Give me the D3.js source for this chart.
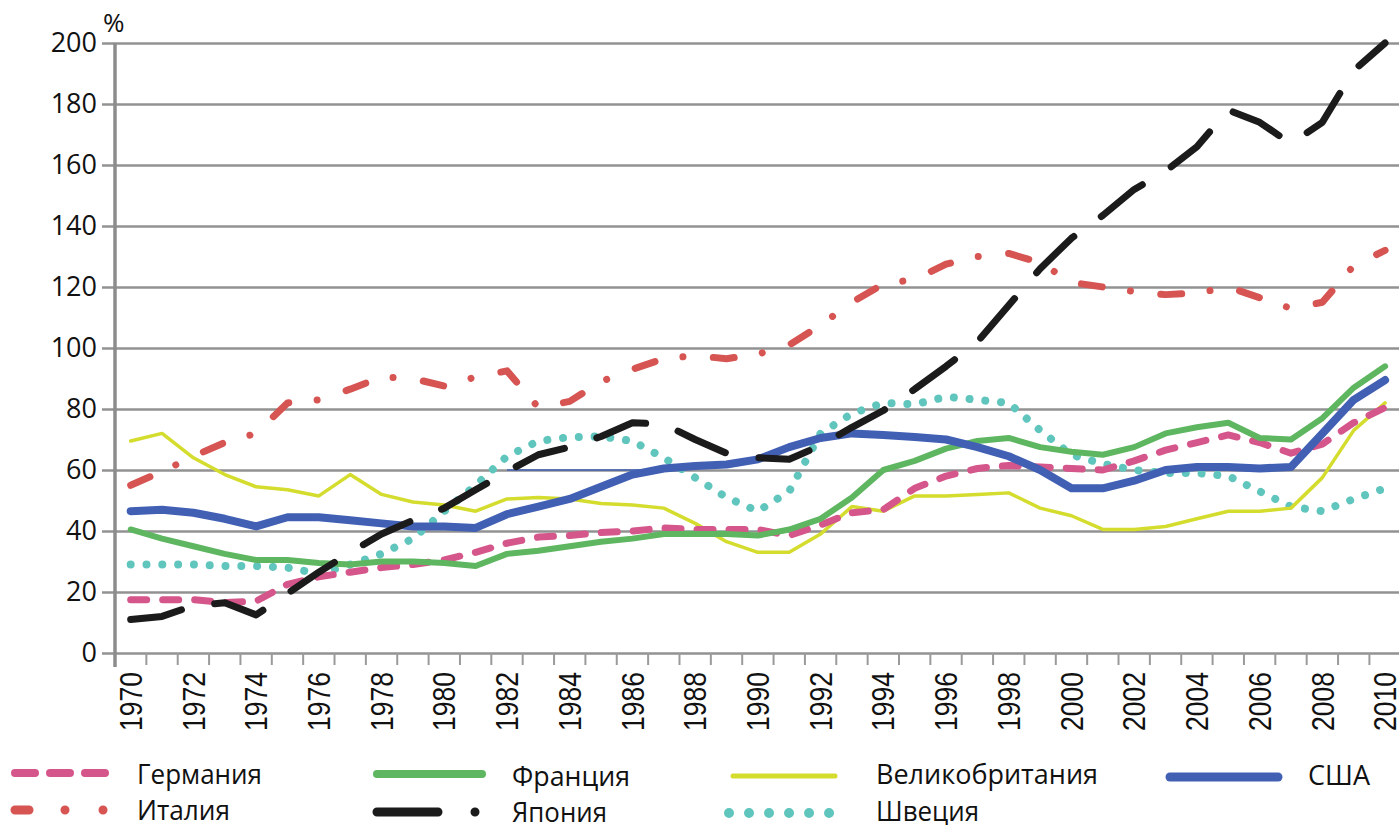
<!DOCTYPE html>
<html><head><meta charset="utf-8">
<script src="https://cdn.jsdelivr.net/npm/d3@7/dist/d3.min.js"></script>
<style>body{margin:0;background:#fff}svg{display:block}</style>
</head><body><svg id="c" width="1399" height="825"></svg>
<script>
// ---------------- data ----------------
const years = [1970,1971,1972,1973,1974,1975,1976,1977,1978,1979,
               1980,1981,1982,1983,1984,1985,1986,1987,1988,1989,
               1990,1991,1992,1993,1994,1995,1996,1997,1998,1999,
               2000,2001,2002,2003,2004,2005,2006,2007,2008,2009,2010];
const xTickLabels = [1970,1972,1974,1976,1978,1980,1982,1984,1986,1988,1990,
                     1992,1994,1996,1998,2000,2002,2004,2006,2008,2010];
const yTicks = [0,20,40,60,80,100,120,140,160,180,200];
const unitLabel = '%';

const germany = [17.5,17.5,17.5,16.5,17,22.5,25,26.5,28,29,
                 30.5,33,36,38,38.5,39.5,40,41,40.5,40.5,
                 40.5,38.5,42,46,47,54,58,60.5,61.5,61,
                 60.5,60,63,66.5,69,71.5,69,65.5,68.5,75.5,80.5];
const italy = [55,59.5,64.5,69,72,82,83,86.5,90.5,90,
               87.5,90.5,92.5,80.5,82.5,89,93,96.5,97.5,96.5,
               98,101,107.5,115,121,122.5,127.5,130,131,128,
               121.5,120,118.5,117.5,118,120,116.5,113,115,127,132];
const france = [40.5,37.5,35,32.5,30.5,30.5,29.5,29,30,30,
                29.5,28.5,32.5,33.5,35,36.5,37.5,39,39,39,
                38.5,40.5,44,51,60,63,67,69.5,70.5,67.5,
                66,65,67.5,72,74,75.5,70.5,70,77,87,94];
const japan = [11,12,15.5,16.5,12.5,19.5,26.5,33,39,43.5,
               47.5,53.5,59.5,65,67.5,71,75.5,75,70,65.5,
               64,63.5,68,74,79.5,86.5,94,102,114,126,
               136,143.5,152,158,166,178,174,167,174,191,200];
const uk = [69.5,72,64,58.5,54.5,53.5,51.5,58.5,52,49.5,
            48.5,46.5,50.5,51,50.5,49,48.5,47.5,42.5,36.5,
            33,33,39,48,46.5,51.5,51.5,52,52.5,47.5,
            45,40.5,40.5,41.5,44,46.5,46.5,47.5,57.5,73,82];
const sweden = [29,29,29,28.5,28.5,28,26,29,32.5,37.5,
                46.5,55,64.5,69.5,70.8,71,69.5,64,57.5,51,
                46.5,53,72,78.5,82,81.5,84,83,82,73,
                65,62,60,59,59,58,53,48,46.5,50.5,54];
const usa = [46.5,47,46,44,41.5,44.5,44.5,43.5,42.5,41.5,
             41.5,41,45.5,48,50.5,54.5,58.5,60.5,61.3,61.8,
             63.5,67.5,70.5,72,71.5,70.8,70,67.5,64.5,60,
             54,54,56.5,60,61,61,60.5,61,72,83,89.5];
// thin blue trace along the 60 line (present in the source picture)
const traceYears = [1982,1987];
const traceValue = 60;

const seriesNames = ['Германия','Италия','Франция','Япония','Великобритания','Швеция','США'];
const seriesValues = [germany, italy, france, japan, uk, sweden, usa];

// ---------------- styles ----------------
const style = {
  'Германия':      {color:'#d5568a', w:7,   dash:'16,16',            lw:8,  ldash:'20,15',          lx:[15,108]},
  'Италия':        {color:'#d65452', w:7,   dash:'21,28.5,0.01,30.5',lw:9,  ldash:'14,36,0.01,38,0.01,200', lx:[15,103.5]},
  'Франция':       {color:'#5fb660', w:6,   dash:null,               lw:8,  ldash:null,             lx:[377,482]},
  'Япония':        {color:'#1b1b1b', w:7,   dash:'52,34',            lw:9,  ldash:'61,37,0.01,200', lx:[377,475.5]},
  'Великобритания':{color:'#d4dc2e', w:3.5, dash:null,               lw:5,  ldash:null,             lx:[733,835]},
  'Швеция':        {color:'#5fc5bd', w:8,   dash:'0.01,15.8',        lw:10, ldash:'0.01,20',        lx:[729,829.5]},
  'США':           {color:'#4160b4', w:8,   dash:null,               lw:9,  ldash:null,             lx:[1170,1278]}
};
const legendPos = {
  'Германия':[137,784,125,773], 'Италия':[137,820,93,810],
  'Франция':[512,786,118,774], 'Япония':[512,822,95,812],
  'Великобритания':[876,784,222,776], 'Швеция':[876,821,103,813],
  'США':[1308,785,62,777]
};
const drawOrder = ['Швеция','Великобритания','Германия','Франция','США','Италия','Япония'];

// ---------------- chart ----------------
const svg = d3.select('#c');
svg.append('rect').attr('width',1399).attr('height',825).attr('fill','#fff');

const x = d3.scaleBand().domain(years).range([115, 115 + 41*31.36]).padding(0);
const y = d3.scaleLinear().domain([0,200]).range([653,43]);
const cx = d => x(d) + x.bandwidth()/2;

// grid lines
svg.append('g').attr('transform','translate(115,0)')
  .call(d3.axisLeft(y).tickValues(yTicks).tickSize(-1290).tickFormat(''))
  .call(g => g.select('.domain').remove())
  .call(g => g.selectAll('line').attr('stroke','#929292').attr('stroke-width',2.5));

// y axis labels + left ticks
svg.append('g').attr('transform','translate(115,0)')
  .call(d3.axisLeft(y).tickValues(yTicks).tickSize(13).tickPadding(5))
  .call(g => g.select('.domain').remove())
  .call(g => g.selectAll('line').attr('stroke','#929292').attr('stroke-width',2.5))
  .call(g => g.selectAll('text').attr('fill','#111').attr('font-family','"Open Sans", sans-serif').attr('font-size',27));

// x tick marks at band boundaries
svg.append('g').selectAll('line').data(years.slice(1)).join('line')
  .attr('x1',d=>x(d)).attr('x2',d=>x(d)).attr('y1',y(0)).attr('y2',y(0)+12)
  .attr('stroke','#9a9a9a').attr('stroke-width',2);

// x labels
svg.append('g').attr('transform',`translate(0,${y(0)})`)
  .call(d3.axisBottom(x).tickValues(xTickLabels).tickSize(0).tickFormat(d=>String(d)))
  .call(g => g.select('.domain').remove())
  .call(g => g.selectAll('text')
     .attr('font-family','"Liberation Sans", Arial, sans-serif').attr('font-size',31).attr('fill','#111')
     .attr('text-anchor','end').attr('transform','rotate(-90)')
     .attr('textLength',59).attr('lengthAdjust','spacingAndGlyphs')
     .attr('x',-19).attr('y',0).attr('dy','0.36em'));

// y axis line
svg.append('line').attr('x1',115).attr('x2',115).attr('y1',y(200)).attr('y2',y(0)+14)
  .attr('stroke','#8c8c8c').attr('stroke-width',3.5);

// unit label
svg.append('text').attr('x',103).attr('y',32).text(unitLabel)
  .attr('font-family','"Open Sans", sans-serif').attr('font-size',26).attr('fill','#111');

// thin trace
svg.append('path').datum(traceYears)
  .attr('d', d3.line().x(d=>cx(d)).y(()=>y(traceValue)))
  .attr('stroke','#4160b4').attr('stroke-width',1.6).attr('fill','none');

// series lines
const line = d3.line().x((d,i)=>cx(years[i])).y(d=>y(d)).curve(d3.curveLinear);
drawOrder.forEach(name => {
  const s = style[name];
  const vals = seriesValues[seriesNames.indexOf(name)];
  svg.append('path').datum(vals)
    .attr('d', line)
    .attr('fill','none').attr('stroke',s.color).attr('stroke-width',s.w)
    .attr('stroke-linecap','round').attr('stroke-linejoin','round')
    .attr('stroke-dasharray', s.dash);
});

// legend
seriesNames.forEach(name => {
  const s = style[name], p = legendPos[name];
  svg.append('line').attr('x1',s.lx[0]).attr('x2',s.lx[1]).attr('y1',p[3]).attr('y2',p[3])
    .attr('stroke',s.color).attr('stroke-width',s.lw).attr('stroke-linecap','round')
    .attr('stroke-dasharray',s.ldash);
  svg.append('text').attr('x',p[0]).attr('y',p[1]).text(name)
    .attr('font-family','"Open Sans", sans-serif').attr('font-size',28).attr('fill','#111')
    .attr('textLength',p[2]).attr('lengthAdjust','spacingAndGlyphs');
});
</script>
</body></html>
